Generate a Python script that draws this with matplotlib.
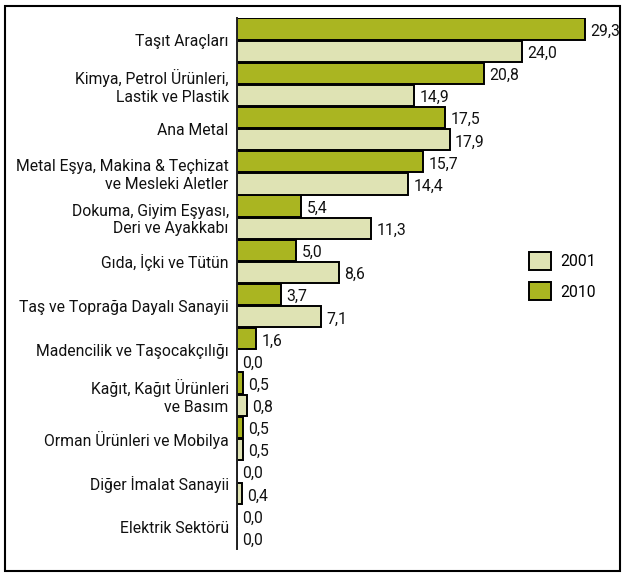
import matplotlib.pyplot as plt
import numpy as np
from matplotlib.patches import Rectangle, Patch

plt.rcParams['font.family'] = ['Roboto', 'DejaVu Sans']

categories = [
    'Taşıt Araçları',
    'Kimya, Petrol Ürünleri,\nLastik ve Plastik',
    'Ana Metal',
    'Metal Eşya, Makina & Teçhizat\nve Mesleki Aletler',
    'Dokuma, Giyim Eşyası,\nDeri ve Ayakkabı',
    'Gıda, İçki ve Tütün',
    'Taş ve Toprağa Dayalı Sanayii',
    'Madencilik ve Taşocakçılığı',
    'Kağıt, Kağıt Ürünleri\nve Basım',
    'Orman Ürünleri ve Mobilya',
    'Diğer İmalat Sanayii',
    'Elektrik Sektörü',
]
v2010 = [29.3, 20.8, 17.5, 15.7, 5.4, 5.0, 3.7, 1.6, 0.5, 0.5, 0.0, 0.0]
v2001 = [24.0, 14.9, 17.9, 14.4, 11.3, 8.6, 7.1, 0.0, 0.8, 0.5, 0.4, 0.0]

c2010 = '#aab521'
c2001 = '#dfe3b4'

fig = plt.figure(figsize=(6.26, 5.77), dpi=100)
W, H = 626, 577
ax = fig.add_axes([237 / W, 1 - 549 / H, (600 - 237) / W, (549 - 18) / H])

y = np.arange(len(categories))
h = 0.48
ax.barh(y - 0.25, v2010, height=h, color=c2010, edgecolor='black', linewidth=1.4)
ax.barh(y + 0.25, v2001, height=h, color=c2001, edgecolor='black', linewidth=1.4)

fs = 11.3
for i in range(len(categories)):
    ax.text(v2010[i] + 0.45, y[i] - 0.2, f'{v2010[i]:.1f}'.replace('.', ','),
            va='center', ha='left', fontsize=fs, color='#111111')
    ax.text(v2001[i] + 0.45, y[i] + 0.3, f'{v2001[i]:.1f}'.replace('.', ','),
            va='center', ha='left', fontsize=fs, color='#111111')

ax.set_ylim(len(categories) - 0.5, -0.5)
ax.set_xlim(0, 30.56)
ax.set_yticks(y)
ax.set_yticklabels(categories, fontsize=fs, ha='right', color='#111111')
ax.tick_params(axis='y', length=0, pad=6)
ax.set_xticks([])
for s in ['top', 'right', 'bottom']:
    ax.spines[s].set_visible(False)
ax.spines['left'].set_linewidth(1.4)
ax.spines['left'].set_color('#222222')

handles = [Patch(facecolor=c2001, edgecolor='black', linewidth=1.4, label='2001'),
           Patch(facecolor=c2010, edgecolor='black', linewidth=1.4, label='2010')]
fig.legend(handles=handles, loc='center left', bbox_to_anchor=(515 / W, 1 - 276 / H),
           frameon=False, handlelength=1.4, handleheight=1.4,
           labelspacing=0.8, handletextpad=0.6, prop={'size': fs})

fig.patches.append(Rectangle((5 / W, 6 / H), 615 / W, 565 / H, transform=fig.transFigure,
                             fill=False, edgecolor='black', linewidth=1.5))

fig.savefig('out.png', dpi=100)
